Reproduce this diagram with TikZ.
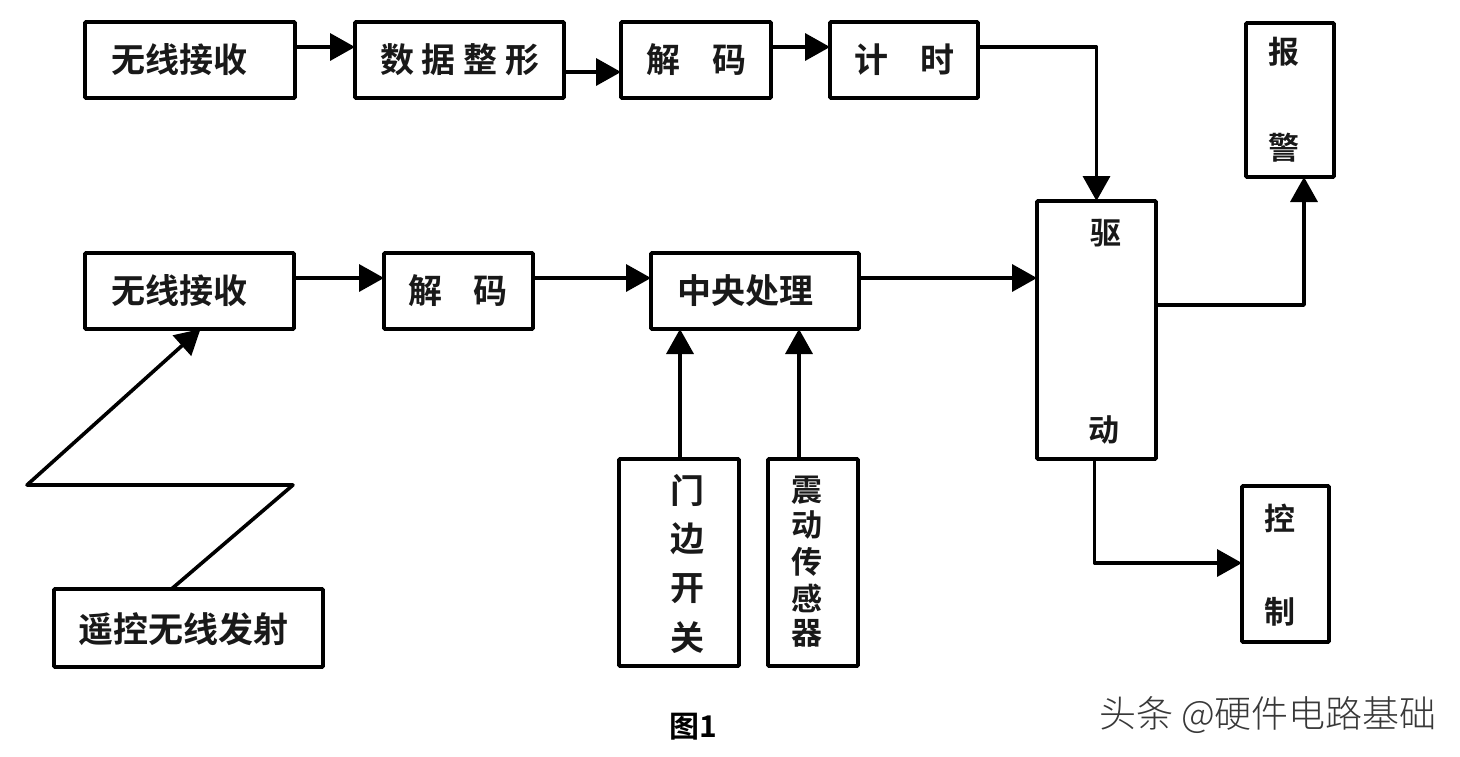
\documentclass[tikz,border=0pt]{standalone}
\usepackage{fontspec}
\usetikzlibrary{arrows.meta}
\newfontfamily\cjkb{Noto Sans CJK SC Bold}
\newfontfamily\cjkl{Noto Sans CJK SC Light}
\tikzset{
  x=1pt,y=-1pt,
  box/.style={draw=black,line width=3.6pt,rounded corners=1pt,inner sep=0pt,outer sep=0pt,fill=white},
  lab/.style={inner sep=0pt,font=\cjkb\fontsize{34}{34}\selectfont,text=black!90},
  smallab/.style={inner sep=0pt,font=\cjkb\fontsize{31}{31}\selectfont,text=black!90},
  conn/.style={draw=black,line width=3.6pt,line join=round},
  arr/.style={conn,-{Triangle[length=25pt,width=27pt]}},
}
\newcommand{\bx}[5]{\node[box,minimum width=#4 - #2,minimum height=#5 - #3] (#1) at ({(#2+#4)/2},{(#3+#5)/2}) {};}
\begin{document}
\begin{tikzpicture}
\useasboundingbox[fill=white] (0,0) rectangle (1460,756);
% boxes
\bx{aa}{85}{22}{295}{98}
\bx{ab}{355}{22}{564}{98}
\bx{ac}{621}{22}{771}{98}
\bx{ad}{830}{22}{978}{98}
\bx{al}{1246}{23}{1334}{177}
\bx{dr}{1037}{201}{1156}{459}
\bx{ba}{85}{253}{294}{329}
\bx{bb}{384}{253}{533}{329}
\bx{bc}{651}{253}{859}{329}
\bx{sw}{619}{459}{739}{666}
\bx{sh}{768}{459}{858}{666}
\bx{ct}{1242}{486}{1329}{642}
\bx{rm}{54}{589}{323}{667}
% labels
\node[lab] (t1) at (179,60) {无线接收};
\node[lab] (t2) at (460,60) {数\hspace{8pt}据\hspace{8pt}整\hspace{8pt}形};
\node[lab] (t3) at (696,60) {解\hspace{32pt}码};
\node[lab] (t4) at (904,60) {计\hspace{32pt}时};
\node[lab] (t5) at (179,291) {无线接收};
\node[lab] (t6) at (458,291) {解\hspace{32pt}码};
\node[lab] (t7) at (745,291) {中央处理};
\node[lab,font=\cjkb\fontsize{35}{35}\selectfont] (t8) at (183,629) {遥控无线发射};
\node[smallab] (u1) at (1284,52) {报};
\node[smallab] (u2) at (1284,148) {警};
\node[smallab] (u3) at (1106,233) {驱};
\node[smallab] (u4) at (1104,430) {动};
\node[smallab] (u5) at (1280,518) {控};
\node[smallab] (u6) at (1280,612) {制};
\node[lab] (v1) at (687,490) {门};
\node[lab] (v2) at (687,539) {边};
\node[lab] (v3) at (687,589) {开};
\node[lab] (v4) at (687,638) {关};
\node[smallab] (w1) at (807,490) {震};
\node[smallab] (w2) at (807,525) {动};
\node[smallab] (w3) at (807,562) {传};
\node[smallab] (w4) at (807,598) {感};
\node[smallab] (w5) at (807,633) {器};
\node[inner sep=0pt,font=\cjkb\fontsize{30}{30}\selectfont] (cap) at (693,727) {图1};
\node[inner sep=0pt,font=\cjkl\fontsize{37}{37}\selectfont,text=black!78] (mark) at (1268,715) {头条 @硬件电路基础};
% connectors
\draw[arr] ([yshift=13pt]aa.east) -- ([yshift=13pt]aa.east -| ab.west);
\draw[arr] ([yshift=-12pt]ab.east) -- ([yshift=-12pt]ab.east -| ac.west);
\draw[arr] ([yshift=13pt]ac.east) -- ([yshift=13pt]ac.east -| ad.west);
\draw[arr] ([yshift=13pt]ad.east) -| (dr.north);
\draw[arr] ([yshift=13pt]ba.east) -- ([yshift=13pt]ba.east -| bb.west);
\draw[arr] ([yshift=13pt]bb.east) -- ([yshift=13pt]bb.east -| bc.west);
\draw[arr] ([yshift=13pt]bc.east) -- ([yshift=13pt]bc.east -| dr.west);
\draw[arr] ([yshift=25pt]dr.east) -| ([xshift=14pt]al.south);
\draw[arr] ([xshift=-2pt]dr.south) |- ([yshift=1pt]ct.west);
\draw[arr] ([xshift=1pt]sw.north) -- ([xshift=1pt]sw.north |- bc.south);
\draw[arr] ([xshift=-14pt]sh.north) -- ([xshift=-14pt]sh.north |- bc.south);
\coordinate (z1) at (293,485);
\coordinate (z2) at (27,485);
\draw[arr] ([xshift=-17pt]rm.north) -- (z1) -- (z2) -- ([xshift=11pt]ba.south);
\end{tikzpicture}
\end{document}
